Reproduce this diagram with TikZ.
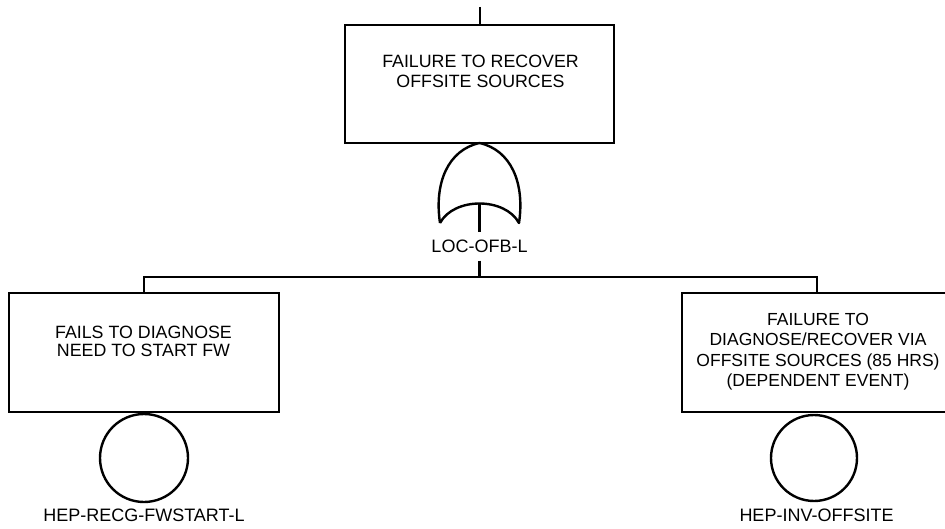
\documentclass[tikz,border=0pt]{standalone}
\usepackage{fontspec}
\setmainfont{Liberation Sans}
\begin{document}
\begin{tikzpicture}[x=1pt,y=-1pt,
  lw/.style={line width=2.4pt},
  evbox/.style={draw,lw,rectangle,inner sep=0pt,outer sep=0pt,minimum width=270pt,minimum height=119pt},
  basic/.style={draw,lw,circle,inner sep=0pt,outer sep=0pt},
  txt/.style={align=center,inner sep=0pt,font=\fontsize{17.8pt}{19.5pt}\selectfont},
  idlbl/.style={inner sep=0pt,font=\fontsize{18pt}{19.5pt}\selectfont}]
\clip (0,0) rectangle (945,529);
\useasboundingbox (0,0) rectangle (945,529);
% boxes
\node[evbox,minimum width=269pt,minimum height=118pt] (top) at (479.5,84) {};
\node[evbox] (lbox) at (144,352.5) {};
\node[evbox] (rbox) at (817,352.5) {};
% texts
\node[txt] (toptxt) at (480.5,71.5) {FAILURE TO RECOVER\\OFFSITE SOURCES};
\node[txt,font=\fontsize{17.8pt}{18pt}\selectfont] (ltxt) at (143.5,341) {FAILS TO DIAGNOSE\\NEED TO START FW};
\node[txt,font=\fontsize{17.5pt}{20.2pt}\selectfont] (rtxt) at (818,351.8) {FAILURE TO\\DIAGNOSE/RECOVER VIA\\OFFSITE SOURCES (85 HRS)\\(DEPENDENT EVENT)};
% top connector
\coordinate (topend) at (480,7);
\draw[lw] (topend) -- (top.north -| topend);
% OR gate
\coordinate (tip) at (479.5,143);
\coordinate (gl) at (440,223);
\coordinate (gr) at (519,223);
\coordinate (gin) at (479.5,203);
\draw[lw,line join=round] (gl) .. controls (434,183) and (448,150) .. (tip)
  .. controls (511,150) and (525,183) .. (gr)
  .. controls (505,197) and (454,197) .. (gl);
\node[idlbl,minimum height=28pt] (glbl) at (479.5,246.5) {LOC-OFB-L};
\draw[lw] (gin) -- (glbl.north);
% bar
\coordinate (bar) at (479.5,277);
\draw[lw] (glbl.south) -- (bar);
\draw[lw] (lbox.north) |- (bar) -| (rbox.north);
% basic events
\node[basic,minimum size=88pt] (lc) at (144,458) {};
\node[basic,minimum size=86pt] (rc) at (814,458) {};
\node[idlbl] (llbl) at (144,515) {HEP-RECG-FWSTART-L};
\node[idlbl] (rlbl) at (816.5,515) {HEP-INV-OFFSITE};
\end{tikzpicture}
\end{document}
